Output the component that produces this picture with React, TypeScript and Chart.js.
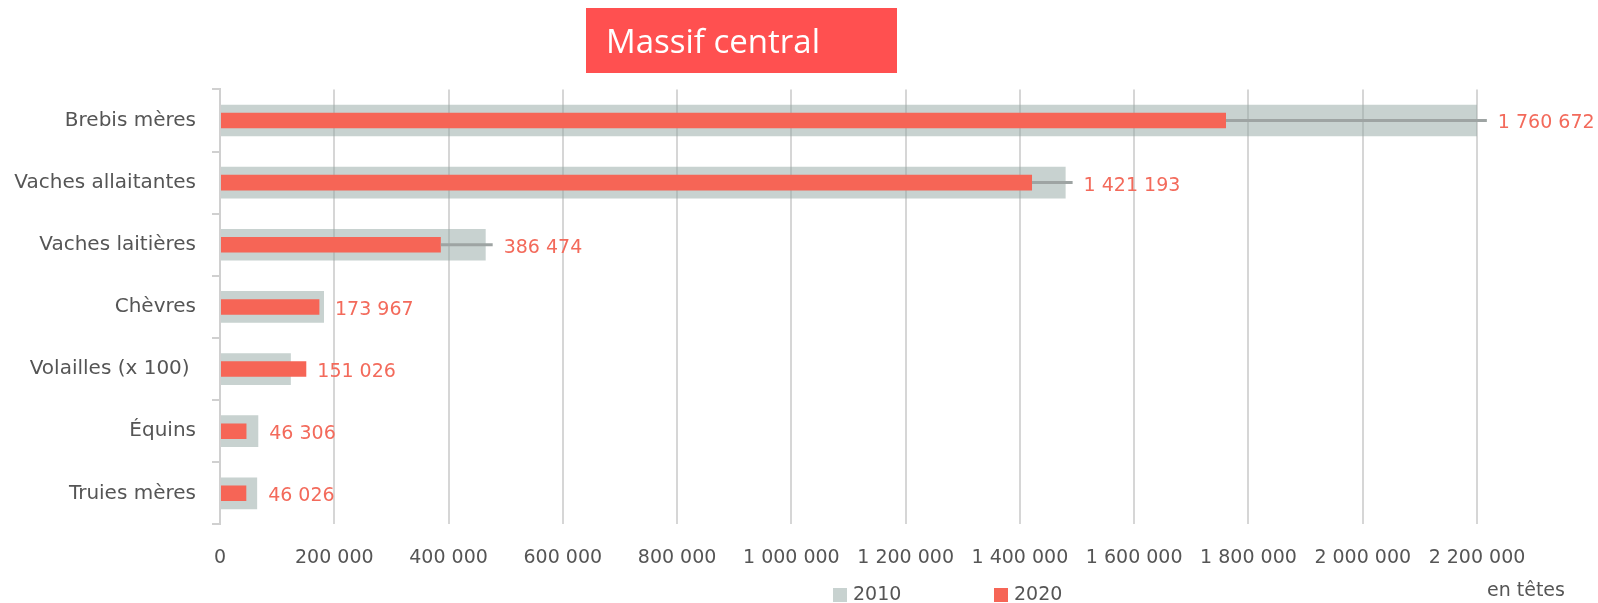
import React, { useEffect, useRef } from 'react';
import { Chart, registerables } from 'chart.js';

Chart.register(...registerables);

// ---- Data ----
const categories = [
  'Brebis mères',
  'Vaches allaitantes',
  'Vaches laitières',
  'Chèvres',
  'Volailles (x 100) ',
  'Équins',
  'Truies mères',
];
const values2010 = [2205000, 1480000, 465000, 182000, 124000, 67000, 65000];
const values2020 = [1760672, 1421193, 386474, 173967, 151026, 46306, 46026];
const connectorShown = [true, true, true, false, false, false, false];
const seriesLabels = ['2010', '2020'];
const xTickValues = [0, 200000, 400000, 600000, 800000, 1000000, 1200000, 1400000, 1600000, 1800000, 2000000, 2200000];
const titleText = 'Massif central';
const unitText = 'en têtes';

const GREY = 'rgba(145,165,161,0.5)';
const GREY_SOLID = '#c8d2d0';
const RED = '#f66556';
const TEXT = '#555555';
const FONT = '"DejaVu Sans", sans-serif';

const fmt = (n: number) => String(n).replace(/\B(?=(\d{3})+(?!\d))/g, ' ');

const overlayPlugin = {
  id: 'overlay',
  afterDatasetsDraw(chart: any) {
    const ctx = chart.ctx as CanvasRenderingContext2D;
    const xs = chart.scales.x;
    const ys = chart.scales.y;
    ctx.save();
    categories.forEach((_, i) => {
      const yc = ys.getPixelForValue(i);
      const x20 = xs.getPixelForValue(values2020[i]);
      const x10 = xs.getPixelForValue(values2010[i]);
      let end = Math.max(x20, x10);
      if (connectorShown[i]) {
        ctx.strokeStyle = '#9ea4a3';
        ctx.lineWidth = 3;
        ctx.beginPath();
        ctx.moveTo(x20, yc);
        ctx.lineTo(x10 + 7, yc);
        ctx.stroke();
        end = x10 + 7;
      }
      ctx.fillStyle = '#f36a5b';
      ctx.font = '19px ' + FONT;
      ctx.textBaseline = 'middle';
      ctx.textAlign = 'left';
      ctx.fillText(fmt(values2020[i]), end + 11, yc + 3);
    });
    ctx.restore();
  },
  afterDraw(chart: any) {
    const ctx = chart.ctx as CanvasRenderingContext2D;
    ctx.save();
    // Title box
    ctx.fillStyle = '#ff5050';
    ctx.fillRect(586, 8, 311, 65);
    ctx.fillStyle = '#ffffff';
    ctx.font = '33px "Open Sans", sans-serif';
    ctx.textAlign = 'left';
    ctx.textBaseline = 'alphabetic';
    ctx.fillText(titleText, 606, 53);

    // Legend
    const colors = [GREY_SOLID, RED];
    const startX = 833;
    const gap = 161;
    ctx.font = '19px ' + FONT;
    ctx.textBaseline = 'middle';
    seriesLabels.forEach((lab, i) => {
      const bx = startX + i * gap;
      ctx.fillStyle = colors[i];
      ctx.fillRect(bx, 588, 14, 14);
      ctx.fillStyle = TEXT;
      ctx.fillText(lab, bx + 20, 595);
    });

    // Unit
    ctx.fillStyle = TEXT;
    ctx.font = '19px ' + FONT;
    ctx.fillText(unitText, 1487, 591);
    ctx.restore();
  },
};

export default function App() {
  const ref = useRef<HTMLCanvasElement | null>(null);
  useEffect(() => {
    if (!ref.current) return;
    const chart = new Chart(ref.current, {
      type: 'bar',
      data: {
        labels: categories,
        datasets: [
          {
            label: seriesLabels[1],
            data: values2020,
            backgroundColor: RED,
            grouped: false,
            categoryPercentage: 1,
            barPercentage: 0.25,
            order: 1,
          },
          {
            label: seriesLabels[0],
            data: values2010,
            backgroundColor: GREY,
            grouped: false,
            categoryPercentage: 1,
            barPercentage: 0.51,
            order: 2,
          },
        ],
      },
      options: {
        indexAxis: 'y',
        animation: false,
        responsive: false,
        devicePixelRatio: 1,
        layout: { padding: { top: 89.4, right: 121, left: 0, bottom: 0 } },
        plugins: {
          legend: { display: false },
          title: { display: false },
          tooltip: { enabled: false },
        },
        scales: {
          x: {
            type: 'linear',
            min: 0,
            max: 2200000,
            afterBuildTicks: (scale: any) => {
              scale.ticks = xTickValues.map((v) => ({ value: v }));
            },
            afterFit: (scale: any) => {
              scale.height = 78.6;
            },
            grid: { color: '#d6d6d6', lineWidth: 2, drawTicks: false },
            border: { display: false },
            ticks: {
              autoSkip: false,
              maxRotation: 0,
              minRotation: 0,
              padding: 22,
              color: TEXT,
              font: { family: FONT, size: 19 },
              callback: (v: any) => fmt(Number(v)),
            },
          },
          y: {
            type: 'category',
            offset: true,
            afterFit: (scale: any) => {
              scale.width = 220;
            },
            grid: { drawOnChartArea: false, drawTicks: true, tickLength: 8, color: '#d0d0d0', lineWidth: 2 },
            border: { display: true, color: '#d0d0d0', width: 2 },
            ticks: {
              padding: 16,
              color: TEXT,
              font: { family: FONT, size: 20 },
            },
          },
        },
      },
      plugins: [overlayPlugin],
    });
    return () => chart.destroy();
  }, []);
  return (
    <div style={{ position: 'fixed', left: 0, top: 0, width: 1598, height: 603, background: '#fff' }}>
      <canvas ref={ref} width={1598} height={603} style={{ display: 'block' }} />
    </div>
  );
}
